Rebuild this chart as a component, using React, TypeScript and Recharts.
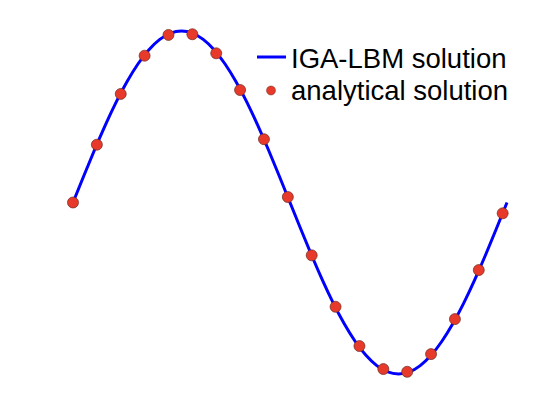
import React from "react";
import { ComposedChart, Line, Scatter, XAxis, YAxis } from "recharts";

const lineX = [
  0, 0.025, 0.05, 0.075, 0.1, 0.125, 0.15, 0.175, 0.2, 0.225, 0.25, 0.275, 0.3, 0.325, 0.35, 0.375, 0.4,
  0.425, 0.45, 0.475, 0.5, 0.525, 0.55, 0.575, 0.6, 0.625, 0.65, 0.675, 0.7, 0.725, 0.75, 0.775, 0.8,
  0.825, 0.85, 0.875, 0.9, 0.925, 0.95, 0.975, 1,
];
const lineY = [
  0, 0.156, 0.309, 0.454, 0.588, 0.707, 0.809, 0.891, 0.951, 0.988, 1.0, 0.988, 0.951, 0.891, 0.809,
  0.707, 0.588, 0.454, 0.309, 0.156, 0, -0.156, -0.309, -0.454, -0.588, -0.707, -0.809, -0.891, -0.951,
  -0.988, -1.0, -0.988, -0.951, -0.891, -0.809, -0.707, -0.588, -0.454, -0.309, -0.156, 0,
];

const dotX = [
  0, 0.055, 0.11, 0.165, 0.22, 0.275, 0.33, 0.385, 0.44, 0.495, 0.55, 0.605, 0.66, 0.715, 0.77, 0.825,
  0.88, 0.935, 0.99,
];
const dotY = [
  0, 0.337, 0.633, 0.856, 0.977, 0.981, 0.87, 0.656, 0.369, 0.032, -0.308, -0.608, -0.837, -0.971,
  -0.987, -0.884, -0.68, -0.394, -0.063,
];

const seriesNames = ["IGA-LBM solution", "analytical solution"];

const lineData = lineX.map((x, i) => ({ x, y: lineY[i] }));
const dotData = dotX.map((x, i) => ({ x, y: dotY[i] }));

const DOT_FILL = "#e83a2a";
const DOT_STROKE = "#6b2a20";
const LINE_COLOR = "#0000ff";
const FONT = "'Liberation Sans', Arial, Helvetica, sans-serif";

const Dot = (props: any) => (
  <circle cx={props.cx} cy={props.cy} r={5.5} fill={DOT_FILL} stroke={DOT_STROKE} strokeWidth={0.7} />
);

const LegendBox = () => (
  <svg width={270} height={75} style={{ display: "block" }}>
    <line x1={2} y1={19} x2={31} y2={19} stroke={LINE_COLOR} strokeWidth={3} />
    <text x={36} y={29.5} fontSize={27.5} fontFamily={FONT} fill="#000">
      {seriesNames[0]}
    </text>
    <circle cx={16} cy={52.5} r={4.5} fill={DOT_FILL} stroke={DOT_STROKE} strokeWidth={0.5} />
    <text x={36} y={62} fontSize={27.5} fontFamily={FONT} fill="#000">
      {seriesNames[1]}
    </text>
  </svg>
);

export default function App() {
  return (
    <div style={{ position: "absolute", left: 0, top: 0, width: 560, height: 420, background: "#fff" }}>
      <ComposedChart width={560} height={420} margin={{ top: 31, right: 53, bottom: 46, left: 73 }}>
        <XAxis type="number" dataKey="x" domain={[0, 1]} hide />
        <YAxis type="number" dataKey="y" domain={[-1, 1]} hide />
        <Line
          data={lineData}
          dataKey="y"
          type="natural"
          stroke={LINE_COLOR}
          strokeWidth={3}
          dot={false}
          activeDot={false}
          isAnimationActive={false}
          name={seriesNames[0]}
        />
        <Scatter
          data={dotData}
          dataKey="y"
          shape={<Dot />}
          isAnimationActive={false}
          name={seriesNames[1]}
        />
      </ComposedChart>
      <div style={{ position: "absolute", left: 255, top: 38 }}>
        <LegendBox />
      </div>
    </div>
  );
}
